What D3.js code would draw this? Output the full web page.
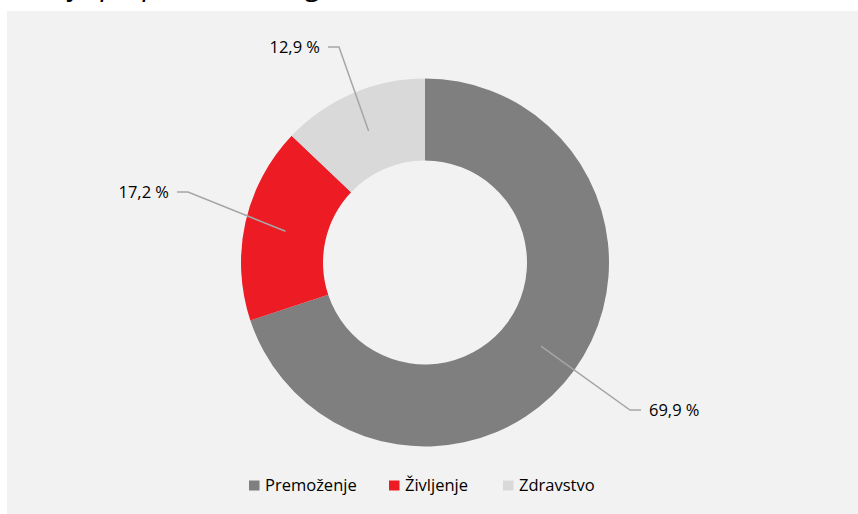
<!DOCTYPE html>
<html>
<head>
<meta charset="utf-8">
<script src="https://cdn.jsdelivr.net/npm/d3@7"></script>
<style>
  body { margin: 0; background: #fff; }
  svg { display: block; font-family: "Open Sans", "Noto Sans", sans-serif; }
</style>
</head>
<body>
<svg id="chart" width="858" height="514"></svg>
<script>
// data
const segments = ["Premoženje", "Življenje", "Zdravstvo"];
const shares = [69.9, 17.2, 12.9];
const shareLabels = ["69,9 %", "17,2 %", "12,9 %"];
const colors = ["#7f7f7f", "#ed1c24", "#d9d9d9"];
const title = "Sestava premije po poslovnih segmentih";

// layout
const W = 858, H = 514;
const cx = 425, cy = 262.5;
const outerR = 184, innerR = 102;
// elbow points of leader lines, relative to centre, and side of the label
const elbows = [[205, 147.5, 1], [-237, -70.5, -1], [-86, -215.5, -1]];

const svg = d3.select("#chart");

// title, cut off by the top edge
svg.append("text")
  .attr("x", 415).attr("y", -5.5)
  .attr("text-anchor", "end")
  .attr("font-size", 30)
  .attr("font-style", "italic")
  .attr("fill", "#000")
  .text(title);

svg.append("rect")
  .attr("x", 7).attr("y", 11)
  .attr("width", W - 7).attr("height", H - 11)
  .attr("fill", "#f2f2f2");

const pie = d3.pie().sort(null).value(d => d)(shares);
const arc = d3.arc().innerRadius(innerR).outerRadius(outerR);

const g = svg.append("g").attr("transform", `translate(${cx},${cy})`);

g.selectAll("path.slice").data(pie).join("path")
  .attr("class", "slice")
  .attr("d", arc)
  .attr("fill", (d, i) => colors[i]);

// leader lines + labels
pie.forEach((d, i) => {
  const c = arc.centroid(d);
  const [ex, ey, side] = elbows[i];
  g.append("polyline")
    .attr("points", [c, [ex, ey], [ex + side * 11, ey]].map(p => p.join(",")).join(" "))
    .attr("fill", "none")
    .attr("stroke", "#a6a6a6")
    .attr("stroke-width", 1.5);
  g.append("text")
    .attr("x", ex + side * 19)
    .attr("y", ey)
    .attr("dy", "0.35em")
    .attr("text-anchor", side > 0 ? "start" : "end")
    .attr("font-size", 16.5)
    .attr("fill", "#000")
    .text(shareLabels[i]);
});

// legend
const legendX = [249, 389, 503];
const legend = svg.append("g");
segments.forEach((s, i) => {
  legend.append("rect")
    .attr("x", legendX[i]).attr("y", 480.5)
    .attr("width", 10.5).attr("height", 10)
    .attr("fill", colors[i]);
  legend.append("text")
    .attr("x", legendX[i] + 16).attr("y", 485.5)
    .attr("dy", "0.35em")
    .attr("font-size", 16.5)
    .attr("fill", "#000")
    .text(s);
});
</script>
</body>
</html>
